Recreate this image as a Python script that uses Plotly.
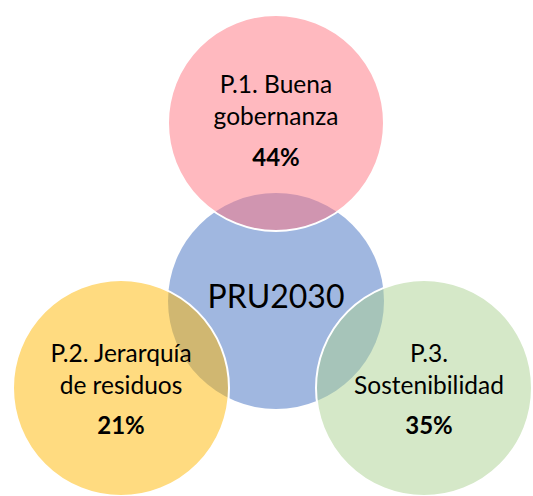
import plotly.graph_objects as go

# ---- data ----
categories = ["P.1. Buena<br>gobernanza", "P.2. Jerarquía<br>de residuos", "P.3.<br>Sostenibilidad"]
shares = [44, 21, 35]
center_label = "PRU2030"

# ---- layout / style constants ----
W, H = 533, 496
R = 108
center_xy = (276, 301)
outer_xy = [(276, 123), (121, 388), (424, 388)]
name_y = [103, 372, 372]
pct_y = [160, 428, 428]
text_x = [276, 121, 429]
fills = ["rgba(255,115,127,0.5)", "rgba(255,183,1,0.5)", "rgba(171,209,145,0.5)"]
center_fill = "rgb(160,183,224)"
FONT = "Lato"

shapes = [dict(type="circle", xref="x", yref="y",
               x0=center_xy[0] - R, x1=center_xy[0] + R,
               y0=center_xy[1] - R, y1=center_xy[1] + R,
               fillcolor=center_fill, line=dict(width=0), layer="below")]
for (cx, cy), fc in zip(outer_xy, fills):
    shapes.append(dict(type="circle", xref="x", yref="y",
                       x0=cx - R, x1=cx + R, y0=cy - R, y1=cy + R,
                       fillcolor=fc, line=dict(color="white", width=2), layer="below"))

fig = go.Figure()
fig.add_trace(go.Scatter(x=text_x, y=name_y, mode="text", text=categories,
                         textposition="middle center",
                         textfont=dict(family=FONT, size=24.5, color="black"),
                         hoverinfo="skip", showlegend=False))
fig.add_trace(go.Scatter(x=text_x, y=pct_y, mode="text",
                         text=[f"<b>{v}%</b>" for v in shares],
                         textposition="middle center",
                         textfont=dict(family=FONT, size=24, color="black"),
                         hoverinfo="skip", showlegend=False))
fig.add_trace(go.Scatter(x=[center_xy[0]], y=[center_xy[1] - 1], mode="text",
                         text=[center_label], textposition="middle center",
                         textfont=dict(family=FONT, size=32, color="black"),
                         hoverinfo="skip", showlegend=False))

fig.update_layout(width=W, height=H, margin=dict(l=0, r=0, t=0, b=0),
                  paper_bgcolor="white", plot_bgcolor="white",
                  shapes=shapes,
                  xaxis=dict(range=[0, W], visible=False, fixedrange=True),
                  yaxis=dict(range=[H, 0], visible=False, fixedrange=True))
fig.write_html("out.html", config={"displayModeBar": False},
               post_script="document.body.style.margin='0';document.body.style.overflow='hidden';")
